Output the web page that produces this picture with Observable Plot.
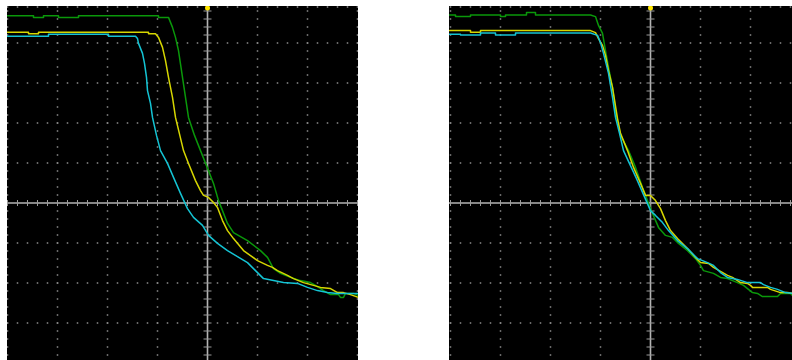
<!DOCTYPE html>
<html><head><meta charset="utf-8">
<script src="https://cdn.jsdelivr.net/npm/d3@7"></script>
<script src="https://cdn.jsdelivr.net/npm/@observablehq/plot@0.6"></script>
<style>
html,body{margin:0;padding:0;background:#fff;width:792px;height:360px;overflow:hidden;}
#left{position:absolute;left:7px;top:6px;}
#right{position:absolute;left:449px;top:6px;}
svg{display:block;}
</style></head><body>
<div id="left"></div><div id="right"></div>
<script>
// Values in oscilloscope divisions: [time (div from trigger), voltage (div from centre)]
const leftGreen = [[-4.00,4.68],[-3.48,4.68],[-3.48,4.64],[-3.28,4.64],[-3.28,4.68],[-2.98,4.68],[-2.98,4.64],[-2.58,4.64],[-2.58,4.68],[-0.98,4.68],[-0.98,4.64],[-0.78,4.64],[-0.70,4.39],[-0.64,4.14],[-0.58,3.81],[-0.50,3.14],[-0.44,2.64],[-0.38,2.14],[-0.26,1.69],[-0.14,1.31],[0.02,0.81],[0.12,0.49],[0.22,0.06],[0.30,-0.19],[0.40,-0.51],[0.52,-0.74],[0.80,-0.94],[1.06,-1.19],[1.20,-1.36],[1.32,-1.64],[1.46,-1.76],[1.66,-1.86],[1.86,-1.94],[2.06,-1.99],[2.16,-2.06],[2.32,-2.19],[2.46,-2.29],[2.62,-2.29],[2.66,-2.36],[2.72,-2.36],[2.76,-2.26],[2.92,-2.26],[3.02,-2.31]];
const leftYellow = [[-4.00,4.27],[-3.58,4.27],[-3.58,4.23],[-3.38,4.23],[-3.38,4.27],[-1.18,4.27],[-1.18,4.23],[-1.04,4.23],[-0.98,4.14],[-0.90,3.89],[-0.84,3.56],[-0.78,3.14],[-0.70,2.64],[-0.64,2.14],[-0.48,1.31],[-0.38,0.99],[-0.24,0.56],[-0.14,0.31],[-0.08,0.19],[0.02,0.14],[0.12,0.01],[0.20,-0.11],[0.30,-0.44],[0.40,-0.69],[0.52,-0.89],[0.72,-1.19],[1.00,-1.44],[1.20,-1.56],[1.30,-1.61],[1.40,-1.69],[1.60,-1.81],[1.72,-1.89],[1.92,-1.99],[2.12,-2.06],[2.26,-2.11],[2.46,-2.14],[2.60,-2.24],[2.72,-2.24],[2.86,-2.29],[3.02,-2.36]];
const leftCyan = [[-4.00,4.17],[-3.18,4.17],[-3.18,4.22],[-1.98,4.22],[-1.98,4.17],[-1.44,4.17],[-1.40,4.11],[-1.38,3.99],[-1.30,3.74],[-1.26,3.49],[-1.22,3.14],[-1.20,2.81],[-1.14,2.49],[-1.10,2.14],[-1.02,1.69],[-0.94,1.31],[-0.80,0.99],[-0.68,0.64],[-0.54,0.24],[-0.40,-0.14],[-0.28,-0.36],[-0.10,-0.56],[0.02,-0.81],[0.20,-1.01],[0.40,-1.19],[0.60,-1.34],[0.80,-1.49],[1.00,-1.74],[1.12,-1.89],[1.32,-1.94],[1.52,-1.99],[1.80,-2.01],[2.00,-2.11],[2.20,-2.19],[2.40,-2.24],[2.60,-2.26],[2.86,-2.26],[3.02,-2.26]];

const rightGreen = [[-4.02,4.70],[-3.90,4.70],[-3.90,4.66],[-3.60,4.66],[-3.60,4.70],[-3.00,4.70],[-3.00,4.66],[-2.90,4.66],[-2.90,4.70],[-2.48,4.70],[-2.48,4.76],[-2.30,4.76],[-2.30,4.70],[-1.20,4.70],[-1.10,4.66],[-1.04,4.44],[-0.96,4.24],[-0.90,3.81],[-0.84,3.39],[-0.76,2.89],[-0.70,2.31],[-0.60,1.69],[-0.44,1.31],[-0.30,0.89],[-0.16,0.39],[-0.06,0.06],[0.04,-0.26],[0.16,-0.61],[0.30,-0.81],[0.44,-0.86],[0.56,-1.01],[0.74,-1.19],[0.90,-1.39],[1.00,-1.56],[1.06,-1.69],[1.26,-1.76],[1.40,-1.86],[1.54,-1.89],[1.74,-1.99],[1.86,-2.06],[1.94,-2.14],[2.04,-2.24],[2.14,-2.26],[2.24,-2.34],[2.54,-2.34],[2.60,-2.26],[2.80,-2.26],[2.84,-2.31]];
const rightYellow = [[-4.02,4.31],[-3.60,4.31],[-3.60,4.27],[-3.40,4.27],[-3.40,4.31],[-1.20,4.31],[-1.10,4.26],[-1.04,4.11],[-0.96,3.94],[-0.90,3.69],[-0.84,3.31],[-0.76,2.89],[-0.66,2.11],[-0.60,1.74],[-0.46,1.31],[-0.34,0.89],[-0.20,0.49],[-0.10,0.19],[0.00,0.19],[0.10,0.06],[0.20,-0.14],[0.30,-0.44],[0.40,-0.69],[0.54,-0.89],[0.74,-1.14],[0.90,-1.36],[1.00,-1.49],[1.16,-1.51],[1.26,-1.61],[1.40,-1.71],[1.54,-1.81],[1.64,-1.86],[1.80,-1.99],[1.94,-2.01],[2.00,-2.06],[2.04,-2.11],[2.34,-2.11],[2.40,-2.16],[2.60,-2.24],[2.74,-2.24],[2.84,-2.26]];
const rightCyan = [[-4.02,4.22],[-3.80,4.22],[-3.80,4.20],[-3.40,4.20],[-3.40,4.25],[-3.10,4.25],[-3.10,4.20],[-2.70,4.20],[-2.70,4.25],[-1.20,4.25],[-1.06,4.19],[-1.00,4.01],[-0.94,3.74],[-0.84,3.24],[-0.76,2.64],[-0.70,2.14],[-0.62,1.74],[-0.54,1.31],[-0.28,0.61],[0.00,-0.19],[0.10,-0.31],[0.24,-0.49],[0.36,-0.69],[0.54,-0.94],[0.74,-1.14],[0.94,-1.39],[1.14,-1.49],[1.26,-1.56],[1.40,-1.74],[1.54,-1.86],[1.74,-1.91],[1.94,-1.99],[2.20,-1.99],[2.26,-2.04],[2.40,-2.11],[2.54,-2.16],[2.70,-2.24],[2.84,-2.26]];

const colors = {green: "#0a980a", yellow: "#d6d600", cyan: "#14c4d4"};
const Y_DOMAIN = [-3.9375, 4.9125];

function scope(el, traces, xDomain, width, height) {
  const [x0, x1] = xDomain, [y0, y1] = Y_DOMAIN;
  const pxX = (x1 - x0) / width, pxY = (y1 - y0) / height;
  const majorX = d3.range(Math.ceil(x0), Math.floor(x1) + 1);
  const majorY = d3.range(Math.ceil(y0), Math.floor(y1) + 1);
  const minorX = d3.range(Math.ceil(x0 / 0.2 - 1e-9), Math.floor(x1 / 0.2 + 1e-9) + 1).map(i => +(i * 0.2).toFixed(2));
  const minorY = d3.range(Math.ceil(y0 / 0.2), Math.floor(y1 / 0.2) + 1).map(i => +(i * 0.2).toFixed(2));
  const gridDots = [];
  for (const y of majorY) if (y !== 0) for (const x of minorX) if (x !== 0) gridDots.push([x, y]);
  for (const x of majorX) if (x !== 0) for (const y of minorY) if (y !== 0) gridDots.push([x, y]);
  for (const x of minorX) if (x !== 0) gridDots.push([x, y1 - 0.5 * pxY]);
  const plot = Plot.plot({
    width, height, margin: 0,
    x: {domain: xDomain, axis: null},
    y: {domain: Y_DOMAIN, axis: null},
    style: {background: "#000", overflow: "hidden"},
    marks: [
      Plot.dot(gridDots, {x: d => d[0], y: d => d[1], r: 0.85, symbol: "square", fill: "#8c8c8c", stroke: null}),
      Plot.ruleX([0], {stroke: "#b4b4b4", strokeWidth: 1.6}),
      Plot.ruleY([0], {stroke: "#b4b4b4", strokeWidth: 1.4}),
      Plot.link(minorY, {x1: () => -4 * pxX, x2: () => 4 * pxX, y1: d => d, y2: d => d, stroke: "#9a9a9a", strokeWidth: 1}),
      Plot.link(minorX, {x1: d => d, x2: d => d, y1: () => -3 * pxY, y2: () => 3 * pxY, stroke: "#9a9a9a", strokeWidth: 1}),
      ...traces.map(([data, c]) => Plot.line(data, {x: d => d[0], y: d => d[1], stroke: c, strokeWidth: 1.5, curve: "linear"})),
      Plot.dot([[0, y1 - 1.5 * pxY]], {x: d => d[0], y: d => d[1], r: 2.5, fill: "#ffe600", stroke: null})
    ]
  });
  document.getElementById(el).appendChild(plot);
}

scope("left", [[leftGreen, colors.green], [leftYellow, colors.yellow], [leftCyan, colors.cyan]], [-4.0, 3.02], 351, 354);
scope("right", [[rightGreen, colors.green], [rightYellow, colors.yellow], [rightCyan, colors.cyan]], [-4.02, 2.84], 343, 354);
</script>
</body></html>
